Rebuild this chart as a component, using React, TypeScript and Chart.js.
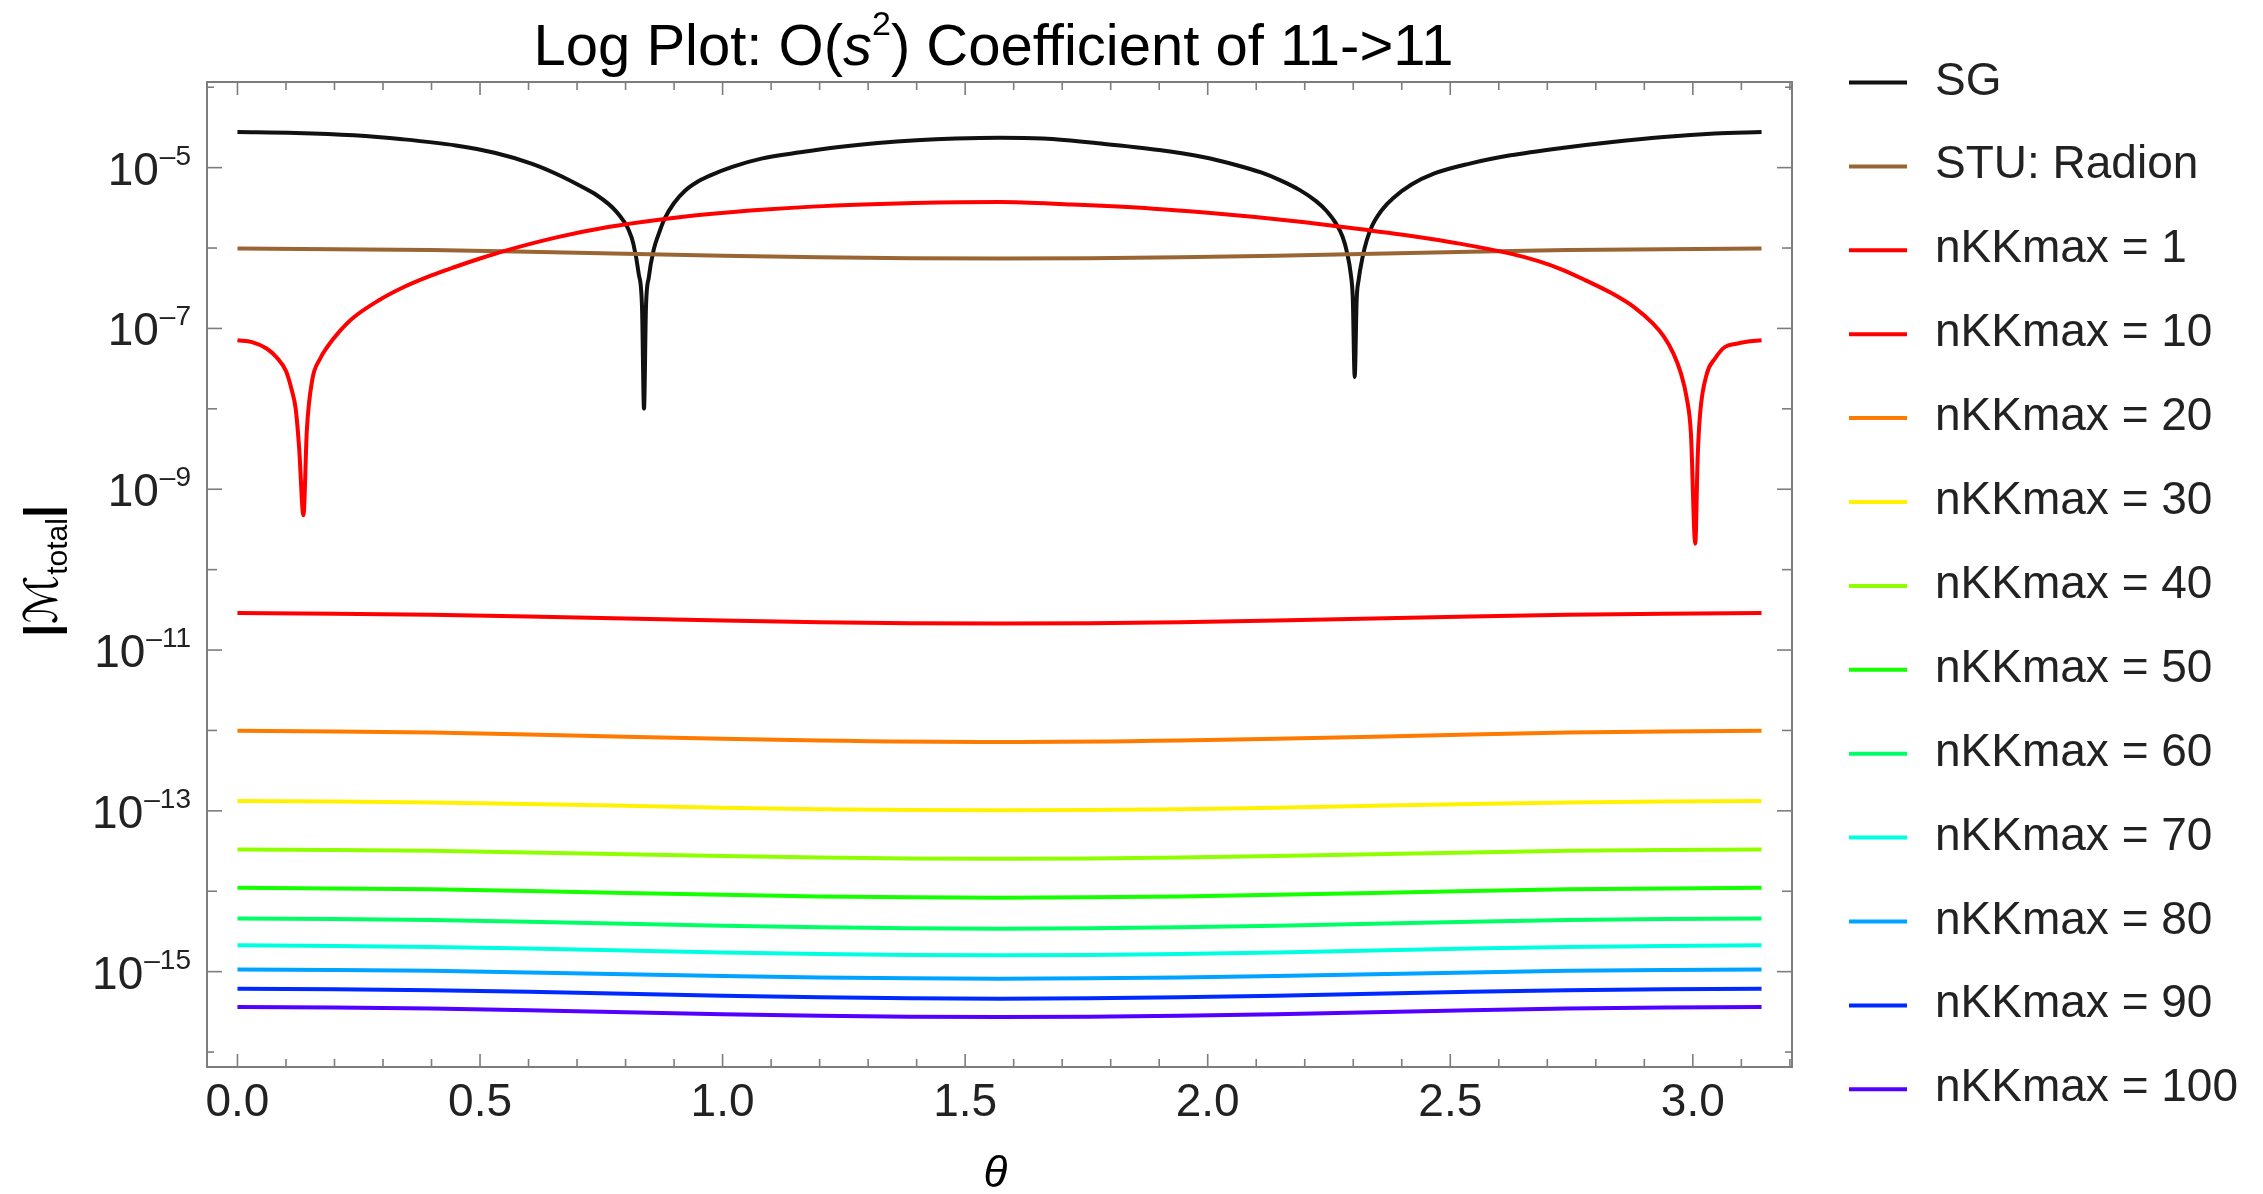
import React, { useEffect, useRef } from "react";
import { Chart, registerables } from "chart.js";

Chart.register(...registerables);

const FONT = "'Liberation Sans', Arial, Helvetica, sans-serif";

// ---------------- data (values are log10 of |M_total|) ----------------
const seriesLabels = [
  "SG",
  "STU: Radion",
  "nKKmax = 1",
  "nKKmax = 10",
  "nKKmax = 20",
  "nKKmax = 30",
  "nKKmax = 40",
  "nKKmax = 50",
  "nKKmax = 60",
  "nKKmax = 70",
  "nKKmax = 80",
  "nKKmax = 90",
  "nKKmax = 100",
];

const seriesColors = [
  "#111111",
  "#996633",
  "#ff0000",
  "#ff0000",
  "#ff7a00",
  "#fff200",
  "#8fff00",
  "#14ff00",
  "#00ff66",
  "#00ffe0",
  "#00a3ff",
  "#0029ff",
  "#5200ff",
];

const sgTheta = [
  0, 0.12, 0.24, 0.34, 0.45, 0.53, 0.606, 0.66, 0.711, 0.74, 0.764, 0.78, 0.795, 0.806, 0.816, 0.827, 0.834,
  0.838, 0.842, 0.848, 0.858, 0.868, 0.88, 0.9, 0.922, 0.95, 0.975, 1.02, 1.08, 1.16, 1.24, 1.32, 1.4, 1.48,
  1.5708, 1.66, 1.78, 1.9, 1.99, 2.06, 2.11, 2.15, 2.19, 2.224, 2.245, 2.266, 2.278, 2.287, 2.295, 2.299, 2.303,
  2.307, 2.311, 2.319, 2.328, 2.34, 2.36, 2.382, 2.42, 2.466, 2.54, 2.624, 2.73, 2.834, 2.94, 3.045, 3.1416,
];
const sgLog10 = [
  -4.557, -4.568, -4.598, -4.647, -4.724, -4.815, -4.95, -5.085, -5.241, -5.34, -5.448, -5.54, -5.655, -5.77,
  -5.945, -6.318, -6.75, -7.998, -6.75, -6.36, -6.02, -5.83, -5.64, -5.44, -5.29, -5.17, -5.096, -4.99, -4.888,
  -4.81, -4.744, -4.695, -4.66, -4.638, -4.627, -4.638, -4.7, -4.78, -4.868, -4.97, -5.06, -5.158, -5.28, -5.42,
  -5.54, -5.71, -5.86, -6.05, -6.33, -6.62, -7.604, -6.65, -6.4, -6.12, -5.9, -5.71, -5.52, -5.38, -5.21, -5.075,
  -4.95, -4.847, -4.755, -4.681, -4.62, -4.577, -4.557,
];

const kk1Theta = [
  0, 0.03, 0.06, 0.08, 0.1, 0.112, 0.12, 0.127, 0.136, 0.143, 0.154, 0.17, 0.185, 0.21, 0.238, 0.29, 0.343, 0.4,
  0.448, 0.5, 0.553, 0.66, 0.764, 0.869, 0.974, 1.08, 1.185, 1.29, 1.395, 1.5708, 1.72, 1.887, 2.0, 2.098, 2.2,
  2.308, 2.42, 2.519, 2.624, 2.68, 2.729, 2.78, 2.834, 2.88, 2.918, 2.94, 2.96, 2.975, 2.987, 2.996, 3.005, 3.01,
  3.015, 3.029, 3.045, 3.066, 3.09, 3.108, 3.1416,
];
const kk1Log10 = [
  -7.148, -7.17, -7.25, -7.356, -7.53, -7.77, -8.0, -8.475, -9.325, -8.267, -7.645, -7.38, -7.231, -7.04, -6.87,
  -6.655, -6.485, -6.34, -6.236, -6.13, -6.032, -5.865, -5.739, -5.648, -5.578, -5.525, -5.485, -5.458, -5.44,
  -5.428, -5.46, -5.51, -5.56, -5.614, -5.68, -5.759, -5.85, -5.945, -6.07, -6.16, -6.265, -6.405, -6.567, -6.74,
  -6.94, -7.1, -7.313, -7.55, -7.853, -8.3, -9.677, -8.6, -8.06, -7.562, -7.38, -7.231, -7.19, -7.169, -7.148,
];

const flatTheta = [0, 0.4, 0.8, 1.2, 1.5708, 1.9416, 2.3416, 2.7416, 3.1416];
const stuLog10 = [-6.007, -6.025, -6.07, -6.115, -6.13, -6.115, -6.07, -6.025, -6.007];
const kk10Log10 = [-10.54, -10.56, -10.607, -10.653, -10.67, -10.653, -10.607, -10.56, -10.54];
const kk20Log10 = [-12.005, -12.026, -12.077, -12.125, -12.143, -12.125, -12.077, -12.026, -12.005];
const kk30Log10 = [-12.877, -12.895, -12.938, -12.979, -12.994, -12.979, -12.938, -12.895, -12.877];
const kk40Log10 = [-13.48, -13.497, -13.54, -13.58, -13.595, -13.58, -13.54, -13.497, -13.48];
const kk50Log10 = [-13.958, -13.976, -14.021, -14.064, -14.08, -14.064, -14.021, -13.976, -13.958];
const kk60Log10 = [-14.338, -14.357, -14.404, -14.449, -14.465, -14.449, -14.404, -14.357, -14.338];
const kk70Log10 = [-14.673, -14.692, -14.737, -14.781, -14.797, -14.781, -14.737, -14.692, -14.673];
const kk80Log10 = [-14.973, -14.99, -15.032, -15.072, -15.087, -15.072, -15.032, -14.99, -14.973];
const kk90Log10 = [-15.213, -15.231, -15.276, -15.32, -15.336, -15.32, -15.276, -15.231, -15.213];
const kk100Log10 = [-15.44, -15.459, -15.505, -15.549, -15.565, -15.549, -15.505, -15.459, -15.44];

// ---------------- axes ----------------
const xMin = -0.0628;
const xMax = 3.2044;
const yMinExp = -16.186;
const yMaxExp = -3.935;
const xMajorTicks = [0, 0.5, 1.0, 1.5, 2.0, 2.5, 3.0];
const xMajorLabels = ["0.0", "0.5", "1.0", "1.5", "2.0", "2.5", "3.0"];
const xMinorTicks = [
  0.1, 0.2, 0.3, 0.4, 0.6, 0.7, 0.8, 0.9, 1.1, 1.2, 1.3, 1.4, 1.6, 1.7, 1.8, 1.9, 2.1, 2.2, 2.3, 2.4, 2.6, 2.7,
  2.8, 2.9, 3.1, 3.2,
];
const yLabeledExps = [-5, -7, -9, -11, -13, -15];
const yUnlabeledExps = [-4, -6, -8, -10, -12, -14, -16];

const titleParts = [
  { text: "Log Plot: O(", style: "" },
  { text: "s", style: "italic " },
  { text: "2", style: "sup" },
  { text: ") Coefficient of 11->11", style: "" },
];

function series(theta: number[], logs: number[]) {
  return theta.map((t, i) => ({ x: t, y: Math.pow(10, logs[i]) }));
}

const seriesData = [
  series(sgTheta, sgLog10),
  series(flatTheta, stuLog10),
  series(kk1Theta, kk1Log10),
  series(flatTheta, kk10Log10),
  series(flatTheta, kk20Log10),
  series(flatTheta, kk30Log10),
  series(flatTheta, kk40Log10),
  series(flatTheta, kk50Log10),
  series(flatTheta, kk60Log10),
  series(flatTheta, kk70Log10),
  series(flatTheta, kk80Log10),
  series(flatTheta, kk90Log10),
  series(flatTheta, kk100Log10),
];
const hasDip = [true, false, true, false, false, false, false, false, false, false, false, false, false];

const decorPlugin = {
  id: "decor",
  afterDraw(chart: any) {
    const ctx: CanvasRenderingContext2D = chart.ctx;
    const { left, right, top, bottom } = chart.chartArea;
    const xs = chart.scales.x;
    const ys = chart.scales.y;
    ctx.save();

    // frame
    ctx.strokeStyle = "#7d7d7d";
    ctx.lineWidth = 2;
    ctx.strokeRect(left, top, right - left, bottom - top);

    const seg = (x1: number, y1: number, x2: number, y2: number) => {
      ctx.beginPath();
      ctx.moveTo(x1, y1);
      ctx.lineTo(x2, y2);
      ctx.stroke();
    };
    ctx.lineWidth = 1.6;
    for (const v of xMajorTicks) {
      const px = xs.getPixelForValue(v);
      seg(px, bottom, px, bottom - 13);
      seg(px, top, px, top + 13);
    }
    for (const v of xMinorTicks) {
      const px = xs.getPixelForValue(v);
      seg(px, bottom, px, bottom - 8);
      seg(px, top, px, top + 8);
    }
    for (const e of yLabeledExps) {
      const py = ys.getPixelForValue(Math.pow(10, e));
      seg(left, py, left + 15, py);
      seg(right, py, right - 15, py);
    }
    for (const e of yUnlabeledExps) {
      const py = ys.getPixelForValue(Math.pow(10, e));
      const len = e === -4 || e === -16 ? 7 : 10;
      seg(left, py, left + len, py);
      seg(right, py, right - len, py);
    }

    // x tick labels
    ctx.fillStyle = "#222";
    ctx.textBaseline = "alphabetic";
    ctx.textAlign = "center";
    ctx.font = `46px ${FONT}`;
    xMajorTicks.forEach((v, i) => {
      ctx.fillText(xMajorLabels[i], xs.getPixelForValue(v), bottom + 49);
    });

    // y tick labels 10^e
    ctx.textAlign = "left";
    for (const e of yLabeledExps) {
      const py = ys.getPixelForValue(Math.pow(10, e));
      ctx.font = `46px ${FONT}`;
      const w1 = ctx.measureText("10").width;
      const sup = "\u2013" + String(-e);
      ctx.font = `28px ${FONT}`;
      const w2 = ctx.measureText(sup).width;
      const x0 = left - 17 - w1 - w2;
      ctx.font = `46px ${FONT}`;
      ctx.fillText("10", x0, py + 17);
      ctx.font = `28px ${FONT}`;
      ctx.fillText(sup, x0 + w1 + 1, py - 3);
    }

    // title
    ctx.fillStyle = "#000";
    const fonts = titleParts.map((p) =>
      p.style === "sup" ? `34px ${FONT}` : `${p.style}58px ${FONT}`
    );
    let total = 0;
    const widths = titleParts.map((p, i) => {
      ctx.font = fonts[i];
      const w = ctx.measureText(p.text).width;
      total += w;
      return w;
    });
    let tx = (left + right) / 2 - 6 - total / 2;
    titleParts.forEach((p, i) => {
      ctx.font = fonts[i];
      ctx.fillText(p.text, tx, p.style === "sup" ? 35 : 65);
      tx += widths[i];
    });

    // x axis title
    ctx.font = `italic 44px ${FONT}`;
    ctx.textAlign = "center";
    ctx.fillText("\u03B8", (left + right) / 2 - 4, 1187);

    // y axis title (rotated)
    ctx.save();
    ctx.translate(57, 571);
    ctx.rotate(-Math.PI / 2);
    const yParts = [
      { text: "|", font: `bold 46px ${FONT}`, dy: 0 },
      { text: "\u2133", font: `46px 'DejaVu Sans', ${FONT}`, dy: 0 },
      { text: "total", font: `30px ${FONT}`, dy: 10 },
      { text: "|", font: `bold 46px ${FONT}`, dy: 0 },
    ];
    let yw = 0;
    const ywid = yParts.map((p) => {
      ctx.font = p.font;
      const w = ctx.measureText(p.text).width;
      yw += w;
      return w;
    });
    ctx.textAlign = "left";
    let yx = -yw / 2;
    yParts.forEach((p, i) => {
      ctx.font = p.font;
      ctx.fillText(p.text, yx, p.dy);
      yx += ywid[i];
    });
    ctx.restore();

    // legend
    ctx.textAlign = "left";
    ctx.font = `46px ${FONT}`;
    seriesLabels.forEach((lab, i) => {
      const ly = 82.5 + 83.9 * i;
      ctx.strokeStyle = seriesColors[i];
      ctx.lineWidth = 4;
      seg(1849, ly, 1907, ly);
      ctx.fillStyle = "#222";
      ctx.fillText(lab, 1935, ly + 12);
    });

    ctx.restore();
  },
};

export default function App() {
  const canvasRef = useRef<HTMLCanvasElement | null>(null);

  useEffect(() => {
    const canvas = canvasRef.current;
    if (!canvas) return;
    const chart = new Chart(canvas, {
      type: "line",
      data: {
        datasets: seriesData.map((d, i) => ({
          label: seriesLabels[i],
          data: d,
          borderColor: seriesColors[i],
          backgroundColor: seriesColors[i],
          borderWidth: 4,
          pointRadius: 0,
          fill: false,
          cubicInterpolationMode: hasDip[i] ? ("monotone" as const) : ("default" as const),
          tension: hasDip[i] ? 0 : 0.4,
          order: -i,
        })),
      },
      options: {
        animation: false,
        responsive: false,
        maintainAspectRatio: false,
        events: [],
        layout: { padding: { left: 207, top: 82, right: 471, bottom: 127 } },
        plugins: {
          legend: { display: false },
          title: { display: false },
          tooltip: { enabled: false },
        },
        scales: {
          x: { type: "linear", min: xMin, max: xMax, display: false },
          y: { type: "logarithmic", min: Math.pow(10, yMinExp), max: Math.pow(10, yMaxExp), display: false },
        },
      },
      plugins: [decorPlugin],
    });
    return () => chart.destroy();
  }, []);

  return (
    <div style={{ position: "fixed", left: 0, top: 0, width: 2263, height: 1194, background: "#fff" }}>
      <canvas ref={canvasRef} width={2263} height={1194} style={{ width: 2263, height: 1194, display: "block" }} />
    </div>
  );
}
